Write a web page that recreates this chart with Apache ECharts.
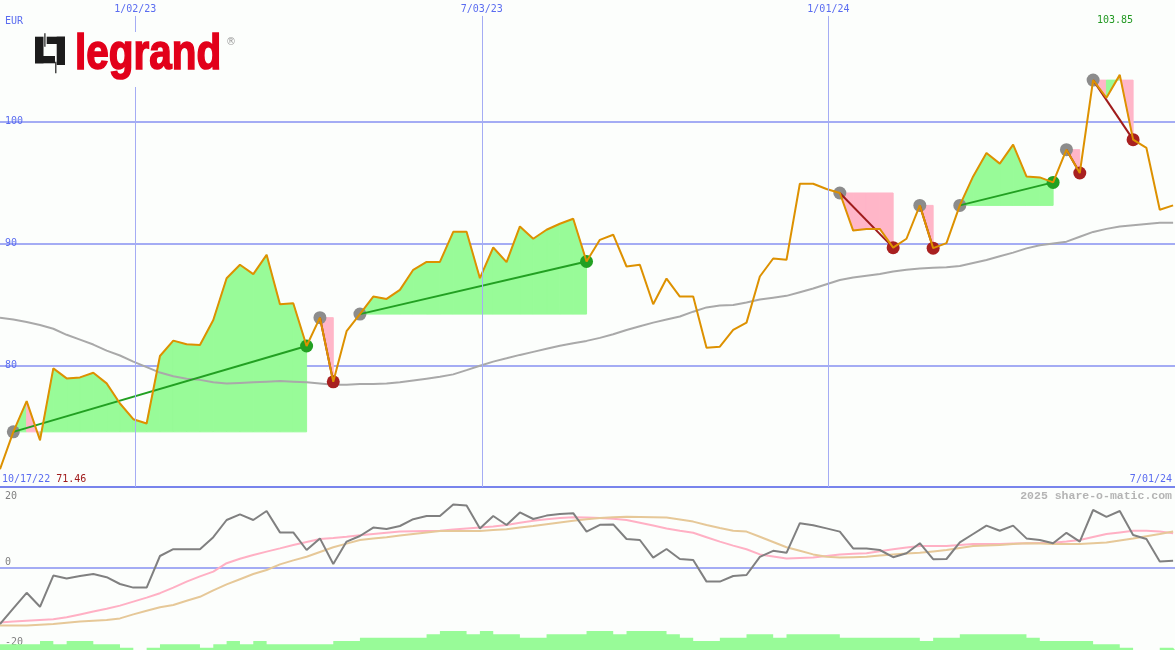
<!DOCTYPE html>
<html>
<head>
<meta charset="utf-8">
<title>Legrand</title>
<script src="https://cdn.jsdelivr.net/npm/echarts@6/dist/echarts.min.js"></script>
<style>
  html, body { margin: 0; padding: 0; background: #fcfefc; }
  #chart { width: 1175px; height: 650px; }
</style>
</head>
<body>
<div id="chart"></div>
<script>
// weekly closes, first point on 23 Oct 2022
const firstWeek = [2022, 9, 23];
const lastDay = [2024, 6, 1];

const price = [
  71.46, 74.53, 77.05, 73.84, 79.74, 78.92, 79.0, 79.38, 78.51, 76.86,
  75.57, 75.22, 80.76, 82.02, 81.72, 81.66, 83.72, 87.15, 88.25, 87.48,
  89.07, 85.01, 85.09, 81.58, 83.91, 78.64, 82.8, 84.2, 85.64, 85.45,
  86.19, 87.84, 88.49, 88.49, 90.96, 90.96, 87.15, 89.67, 88.47, 91.4,
  90.39, 91.13, 91.62, 92.03, 88.52, 90.3, 90.72, 88.11, 88.25, 85.01,
  87.12, 85.64, 85.64, 81.44, 81.52, 82.9, 83.5, 87.29, 88.77, 88.66,
  94.91, 94.91, 94.48, 94.15, 91.06, 91.2, 91.2, 89.66, 90.39, 93.13,
  89.62, 90.03, 93.13, 95.51, 97.44, 96.56, 98.12, 95.51, 95.43, 95.02,
  97.71, 95.79, 103.42, 101.97, 103.85, 98.53, 97.85, 92.77, 93.13
];

const movingAvg = [
  83.9, 83.75, 83.55, 83.3, 83.0, 82.5, 82.1, 81.7, 81.2, 80.8,
  80.3, 79.85, 79.4, 79.1, 78.9, 78.8, 78.6, 78.5, 78.55, 78.6,
  78.65, 78.7, 78.65, 78.6, 78.5, 78.4, 78.4, 78.45, 78.45, 78.5,
  78.6, 78.75, 78.9, 79.05, 79.25, 79.6, 79.96, 80.3, 80.57, 80.85,
  81.1, 81.35, 81.6, 81.8, 82.0, 82.25, 82.55, 82.9, 83.2, 83.5,
  83.75, 84.0, 84.4, 84.75, 84.9, 84.95, 85.15, 85.4, 85.55, 85.7,
  86.0, 86.3, 86.65, 87.0, 87.2, 87.35, 87.5, 87.7, 87.85, 87.95,
  88.0, 88.05, 88.15, 88.4, 88.65, 88.95, 89.25, 89.6, 89.85, 90.0,
  90.15, 90.55, 90.95, 91.2, 91.4, 91.5, 91.6, 91.7, 91.7
];

const momentum = [
  -14.0, -10.1, -6.2, -9.7, -1.9, -2.6, -2.0, -1.5, -2.3, -4.0,
  -4.9, -4.9, 3.0, 4.7, 4.7, 4.7, 7.7, 12.0, 13.4, 12.0,
  14.25, 8.9, 8.9, 4.5, 7.4, 1.0, 6.6, 8.0, 10.1, 9.75,
  10.5, 12.2, 13.0, 13.0, 15.9, 15.6, 9.9, 13.0, 10.75, 13.9,
  12.25, 13.1, 13.5, 13.7, 9.1, 10.8, 10.9, 7.25, 7.0, 2.6,
  4.75, 2.25, 2.0, -3.4, -3.4, -2.0, -1.75, 2.8, 4.3, 3.8,
  11.2, 10.7, 9.9, 9.1, 4.9, 4.9, 4.5, 2.7, 3.7, 6.2,
  2.2, 2.25, 6.4, 8.5, 10.6, 9.3, 10.6, 7.4, 7.0, 6.2,
  8.8, 6.6, 14.5, 12.8, 14.25, 8.25, 7.25, 1.6, 1.8
];

const momentumFast = [
  -13.6, -13.4, -13.2, -13.0, -12.8, -12.3, -11.6, -10.9, -10.2, -9.4,
  -8.4, -7.4, -6.3, -4.9, -3.4, -2.1, -0.9, 1.2, 2.3, 3.25,
  4.1, 4.9, 5.75, 6.5, 7.25, 7.5, 7.8, 8.2, 8.5, 8.8,
  9.1, 9.2, 9.25, 9.3, 9.6, 9.85, 10.1, 10.4, 10.75, 11.3,
  11.8, 12.2, 12.5, 12.7, 12.65, 12.5, 12.3, 12.0, 11.3, 10.6,
  9.9, 9.3, 8.8, 7.7, 6.6, 5.6, 4.7, 3.4, 2.9, 2.4,
  2.5, 2.6, 3.0, 3.4, 3.55, 3.7, 4.2, 4.7, 5.1, 5.5,
  5.5, 5.5, 5.75, 6.0, 6.0, 6.0, 6.1, 6.2, 6.25, 6.3,
  6.6, 7.0, 7.75, 8.5, 8.9, 9.3, 9.3, 9.1, 8.7
];

const momentumSlow = [
  -14.4, -14.4, -14.4, -14.2, -14.0, -13.7, -13.4, -13.2, -13.0, -12.6,
  -11.6, -10.7, -9.8, -9.25, -8.2, -7.2, -5.6, -4.1, -2.8, -1.5,
  -0.5, 0.9, 1.9, 2.8, 4.0, 5.2, 6.1, 7.0, 7.35, 7.7,
  8.1, 8.5, 8.9, 9.25, 9.25, 9.25, 9.25, 9.5, 9.7, 10.1,
  10.5, 10.95, 11.4, 11.8, 12.2, 12.5, 12.7, 12.8, 12.75, 12.7,
  12.6, 12.1, 11.6, 10.75, 10.0, 9.3, 9.1, 7.8, 6.5, 5.2,
  4.3, 3.4, 2.8, 2.6, 2.7, 2.8, 3.1, 3.4, 3.6, 3.8,
  4.15, 4.5, 5.0, 5.5, 5.6, 5.75, 6.0, 6.2, 6.1, 6.0,
  6.0, 6.0, 6.2, 6.4, 6.9, 7.4, 7.95, 8.5, 9.1
];

const volumeLevel = [
  2, 2, 2, 3, 2, 3, 3, 2, 2, 1,
  0, 1, 2, 2, 2, 1, 2, 3, 2, 3,
  2, 2, 2, 2, 2, 3, 3, 4, 4, 4,
  4, 4, 5, 6, 6, 5, 6, 5, 5, 4,
  4, 5, 5, 5, 6, 6, 5, 6, 6, 6,
  5, 4, 3, 3, 4, 4, 5, 5, 4, 5,
  5, 5, 5, 4, 4, 4, 4, 4, 4, 3,
  4, 4, 5, 5, 5, 5, 5, 4, 3, 3,
  3, 3, 2, 2, 1, 0, 0, 1, 1
];

// [entry week, exit week]
const trades = [[1, 23], [24, 25], [27, 44], [63, 67], [69, 70], [72, 79], [80, 81], [82, 85]];

const dateTickDays = ['2023-01-02', '2023-07-03', '2024-01-01'];
const dateTickLabels = ['1/02/23', '7/03/23', '1/01/24'];
const firstLabel = '10/17/22';
const lastLabel = '7/01/24';
const currency = 'EUR';
const credit = '2025 share-o-matic.com';

const BLUE = '#5a6cf0';
const GRID = '#a4acf4';
const SEP = '#7884ec';
const MONO = 'DejaVu Sans Mono';
const GREEN_FILL = '#98fb98';
const PINK_FILL = '#ffb6c8';

function dayTime(s) {
  const p = s.split('-').map(Number);
  return new Date(p[0], p[1] - 1, p[2]).getTime();
}
const weekTime = price.map((_, i) => new Date(firstWeek[0], firstWeek[1], firstWeek[2] + 7 * i).getTime());
const startTime = weekTime[0];
const endTime = new Date(lastDay[0], lastDay[1], lastDay[2]).getTime();
const tickTime = dateTickDays.map(dayTime);

const fillData = [];
const tradeData = [];
trades.forEach(function (t) {
  const entry = price[t[0]];
  for (let k = t[0]; k < t[1]; k++) {
    fillData.push([weekTime[k], weekTime[k + 1], price[k], price[k + 1], entry]);
  }
  tradeData.push([weekTime[t[0]], weekTime[t[1]], entry, price[t[1]]]);
});

const pairs = a => a.map((v, i) => [weekTime[i], v]);
const histData = volumeLevel.map((v, i) => [weekTime[i], v]);
histData.push([endTime, volumeLevel[volumeLevel.length - 1]]);

const maxPrice = Math.max.apply(null, price);
const minPrice = Math.min.apply(null, price);

const INK = '#1c1c1c';
const logoIcon = [
  [35, 36.7, 8.5, 26.6],
  [35, 56, 20, 7.3],
  [44.3, 33.3, 1.2, 13.4],
  [46.7, 36.7, 18.3, 7.3],
  [56.7, 36.7, 8.3, 28.3],
  [55.2, 61.7, 1.2, 11.6]
].map(r => ({ type: 'rect', z: 51, shape: { x: r[0], y: r[1], width: r[2], height: r[3] }, style: { fill: INK } }));

var chart = echarts.init(document.getElementById('chart'));
var option = {
  backgroundColor: '#fcfefc',
  animation: false,
  textStyle: { fontFamily: MONO },
  grid: [
    { left: 0, right: 0, top: 0, height: 487 },
    { left: 0, right: 0, top: 488, height: 160 },
    { left: 0, right: 0, top: 630, height: 20 }
  ],
  xAxis: [
    { type: 'time', gridIndex: 0, min: startTime, max: endTime,
      axisLabel: { show: false }, axisTick: { show: false }, splitLine: { show: false },
      axisLine: { show: true, lineStyle: { color: SEP, width: 2 } } },
    { type: 'time', gridIndex: 1, min: startTime, max: endTime, show: false },
    { type: 'time', gridIndex: 2, min: startTime, max: endTime, show: false }
  ],
  yAxis: [
    { type: 'value', gridIndex: 0, min: 70, max: 110, interval: 10,
      axisLine: { show: false }, axisTick: { show: false },
      axisLabel: { inside: true, margin: 5, color: BLUE, fontFamily: MONO, fontSize: 10,
        padding: [0, 0, 12, 0],
        formatter: function (v) { return (v === 70 || v === 110) ? '' : String(v); } },
      splitLine: { lineStyle: { color: ['rgba(0,0,0,0)', GRID, GRID, GRID, 'rgba(0,0,0,0)'], width: 2 } } },
    { type: 'value', gridIndex: 1, min: -20, max: 20, interval: 20,
      axisLine: { show: false }, axisTick: { show: false },
      axisLabel: { inside: true, margin: 5, color: '#808080', fontFamily: MONO, fontSize: 10,
        showMinLabel: true, showMaxLabel: true,
        formatter: function (v) { return v === 20 ? '{d|' + v + '}' : '{u|' + v + '}'; },
        rich: { u: { padding: [0, 0, 12, 0] }, d: { padding: [16, 0, 0, 0] } } },
      splitLine: { lineStyle: { color: ['rgba(0,0,0,0)', GRID, 'rgba(0,0,0,0)'], width: 2 } } },
    { type: 'value', gridIndex: 2, min: 0.3, max: 6.3, show: false }
  ],
  graphic: [
    { type: 'rect', shape: { x: 32, y: 32, width: 206, height: 55 }, style: { fill: '#fcfefc' }, z: 50 }
  ].concat(logoIcon, [
    { type: 'text', x: 75, y: 55, scaleX: 0.81, z: 51,
      style: { text: 'legrand', fill: '#e2001a', stroke: '#e2001a', lineWidth: 1.6,
        fontFamily: 'Liberation Sans', fontWeight: 'bold',
        fontSize: 50, align: 'left', verticalAlign: 'middle' } },
    { type: 'text', x: 226, y: 42, z: 51,
      style: { text: '\u00ae', fill: '#999999', fontFamily: 'DejaVu Sans', fontSize: 10,
        align: 'left', verticalAlign: 'middle' } },
    { type: 'text', x: 5, y: 21, z: 51,
      style: { text: currency, fill: BLUE, fontFamily: MONO, fontSize: 10, align: 'left', verticalAlign: 'middle' } },
    { type: 'text', x: 1133, y: 20, z: 51,
      style: { text: maxPrice.toFixed(2), fill: '#229922', fontFamily: MONO, fontSize: 10, align: 'right', verticalAlign: 'middle' } },
    { type: 'text', x: 2, y: 479, z: 51,
      style: { text: '{d|' + firstLabel + '} {m|' + minPrice.toFixed(2) + '}', fontFamily: MONO, fontSize: 10,
        align: 'left', verticalAlign: 'middle',
        rich: { d: { fill: BLUE, fontFamily: MONO, fontSize: 10 }, m: { fill: '#a01c1c', fontFamily: MONO, fontSize: 10 } } } },
    { type: 'text', x: 1172, y: 479, z: 51,
      style: { text: lastLabel, fill: BLUE, fontFamily: MONO, fontSize: 10, align: 'right', verticalAlign: 'middle' } },
    { type: 'text', x: 1172, y: 496, z: 51,
      style: { text: credit, fill: '#b4b4b4', fontFamily: 'Liberation Mono', fontWeight: 'bold', fontSize: 11.5,
        align: 'right', verticalAlign: 'middle' } }
  ]),
  series: [
    {
      type: 'custom', xAxisIndex: 0, yAxisIndex: 0, z: 1,
      encode: { x: [0, 1], y: [2, 3, 4] },
      data: fillData,
      renderItem: function (params, api) {
        const x0 = api.value(0), x1 = api.value(1);
        const p0 = api.value(2), p1 = api.value(3), e = api.value(4);
        const c = p1 > e ? GREEN_FILL : PINK_FILL;
        return {
          type: 'polygon',
          shape: { points: [api.coord([x0, e]), api.coord([x0, p0]), api.coord([x1, p1]), api.coord([x1, e])] },
          style: { fill: c, stroke: c, lineWidth: 1 }
        };
      }
    },
    {
      type: 'line', xAxisIndex: 0, yAxisIndex: 0, z: 2, symbol: 'none',
      data: pairs(movingAvg),
      lineStyle: { color: '#a9a9a9', width: 2 }
    },
    {
      type: 'custom', xAxisIndex: 0, yAxisIndex: 0, z: 3,
      encode: { x: [0, 1], y: [2, 3] },
      data: tradeData,
      renderItem: function (params, api) {
        const a = api.coord([api.value(0), api.value(2)]);
        const b = api.coord([api.value(1), api.value(3)]);
        const win = api.value(3) > api.value(2);
        return {
          type: 'group',
          children: [
            { type: 'circle', shape: { cx: a[0], cy: a[1], r: 6.5 }, style: { fill: '#8c8c8c' } },
            { type: 'circle', shape: { cx: b[0], cy: b[1], r: 6.5 }, style: { fill: win ? '#22a022' : '#a82020' } },
            { type: 'line', shape: { x1: a[0], y1: a[1], x2: b[0], y2: b[1] },
              style: { stroke: win ? '#22a022' : '#a01c1c', lineWidth: 2 } }
          ]
        };
      }
    },
    {
      type: 'line', xAxisIndex: 0, yAxisIndex: 0, z: 4, symbol: 'none',
      data: pairs(price),
      lineStyle: { color: '#dd9100', width: 2 },
      markLine: {
        silent: true, symbol: ['none', 'none'],
        lineStyle: { color: GRID, width: 1, type: 'solid' },
        label: { show: true, position: 'end', formatter: '{b}', color: BLUE, fontFamily: MONO, fontSize: 10, distance: 2 },
        data: tickTime.map((t, i) => [{ coord: [t, 70], name: dateTickLabels[i] }, { coord: [t, 108.69] }])
      }
    },
    {
      type: 'line', xAxisIndex: 1, yAxisIndex: 1, z: 2, symbol: 'none',
      data: pairs(momentumFast),
      lineStyle: { color: '#ffb0c4', width: 2 }
    },
    {
      type: 'line', xAxisIndex: 1, yAxisIndex: 1, z: 2, symbol: 'none',
      data: pairs(momentumSlow),
      lineStyle: { color: '#e6c898', width: 2 }
    },
    {
      type: 'line', xAxisIndex: 1, yAxisIndex: 1, z: 3, symbol: 'none',
      data: pairs(momentum),
      lineStyle: { color: '#808080', width: 2 },
      markLine: {
        silent: true, symbol: ['none', 'none'],
        lineStyle: { color: GRID, width: 1, type: 'solid' },
        label: { show: false },
        data: tickTime.map(t => [{ coord: [t, 20] }, { coord: [t, -20.5] }])
      }
    },
    {
      type: 'line', xAxisIndex: 2, yAxisIndex: 2, z: 5, symbol: 'none', step: 'end',
      data: histData,
      lineStyle: { width: 0 },
      areaStyle: { color: GREEN_FILL, opacity: 1, origin: 'start' }
    }
  ]
};
chart.setOption(option);
</script>
</body>
</html>
